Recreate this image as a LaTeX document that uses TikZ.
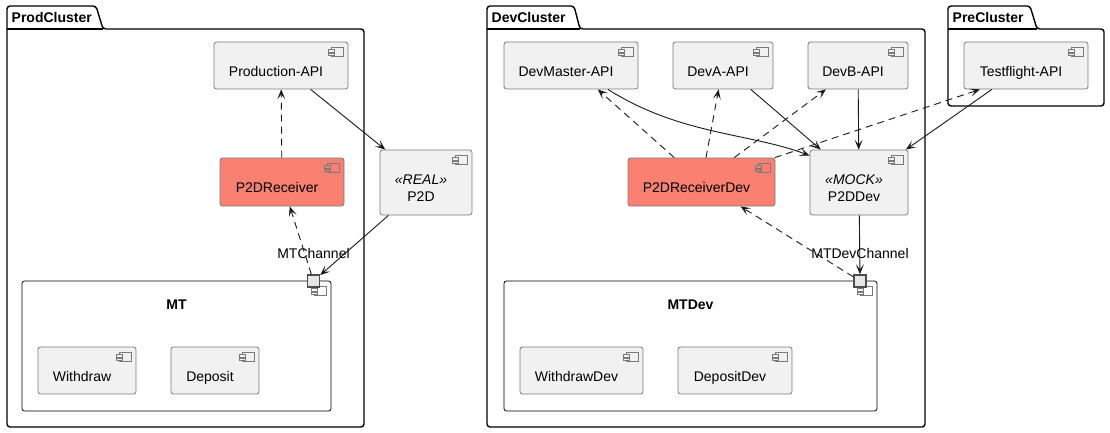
\documentclass[tikz,border=0pt]{standalone}
\usepackage{fontspec}
\setmainfont{Liberation Sans}
\usetikzlibrary{arrows.meta}
\definecolor{compfill}{HTML}{F1F1F1}
\definecolor{compline}{HTML}{7A7A7A}
\definecolor{recvfill}{HTML}{FA8072}
\definecolor{portfill}{HTML}{E6E6E6}
\tikzset{
  pics/compicon/.style={code={
    \draw[compline, fill=#1, line width=0.7pt] (-17,6) rectangle (-5,15);
    \draw[compline, fill=#1, line width=0.7pt] (-20,8) rectangle (-14,10.5) (-20,11.5) rectangle (-14,14);
  }},
}
\begin{document}
\begin{tikzpicture}[x=1pt, y=-1pt, font=\fontsize{14}{16}\selectfont,
    comp/.style={draw=compline, fill=compfill, line width=0.8pt, rounded corners=2.5pt, minimum height=47pt, inner sep=0pt},
    recv/.style={comp, fill=recvfill, minimum height=48pt},
    box/.style={draw=black, line width=0.8pt, rounded corners=2.5pt, minimum height=130pt, inner sep=0pt},
    port/.style={draw=black!70, fill=portfill, line width=1.4pt, minimum size=12pt, inner sep=0pt},
    pkg/.style={draw=black, line width=1.4pt},
    pkgtitle/.style={font=\fontsize{14}{16}\selectfont\bfseries, inner sep=0pt, anchor=base west},
    comptext/.style={inner sep=0pt, anchor=base, xshift=-5pt},
    boxtitle/.style={font=\fontsize{14}{16}\selectfont\bfseries, inner sep=0pt, anchor=base},
    portlabel/.style={inner sep=0pt, label distance=15pt},
    txt/.style={label={[comptext, yshift=-35pt]north:#1}},
    stxt/.style 2 args={label={[comptext, yshift=-35pt]north:{\itshape «#1»}}, label={[comptext, yshift=-51.5pt]north:#2}},
    link/.style={draw=black!90, line width=0.9pt, -{Stealth[length=10pt, width=8pt, inset=5pt]}},
    deplink/.style={link, dash pattern=on 7pt off 5pt}]
  \useasboundingbox (0,0) rectangle (1110,433);

  % packages
  \draw[pkg, rounded corners=3pt] (7,29) |- (96,6) -- (103,29) -- (364,29) -- (364,427) -- (7,427) -- cycle;
  \draw[pkg] (7,29) -- (103,29);
  \node[pkgtitle] (prodtitle) at (11.5,23) {ProdCluster};
  \draw[pkg, rounded corners=3pt] (487,29) |- (574,6) -- (580,29) -- (925,29) -- (925,427) -- (487,427) -- cycle;
  \draw[pkg] (487,29) -- (580,29);
  \node[pkgtitle] (devtitle) at (491.5,23) {DevCluster};
  \draw[pkg, rounded corners=3pt] (948,29) |- (1030,6) -- (1037,29) -- (1104,29) -- (1104,106) -- (948,106) -- cycle;
  \draw[pkg] (948,29) -- (1037,29);
  \node[pkgtitle] (pretitle) at (952.5,23) {PreCluster};

  % prod
  \node[comp, minimum width=134pt, txt=Production-API] (prodapi) at (281,65.5) {};
  \node[recv, minimum width=124pt, txt=P2DReceiver] (p2drecv) at (282,182) {};
  \node[comp, minimum width=92pt, minimum height=65pt, stxt={REAL}{P2D}] (p2d) at (426,182.5) {};
  \node[box, minimum width=309pt, label={[boxtitle, yshift=-28.5pt]north:MT}] (mt) at (176.5,346) {};
  \node[comp, minimum width=98pt, txt=Withdraw] (withdraw) at (87,370.5) {};
  \node[comp, minimum width=88pt, txt=Deposit] (deposit) at (215,370.5) {};

  % dev
  \node[comp, minimum width=134pt, txt=DevMaster-API] (devmaster) at (571,65.5) {};
  \node[comp, minimum width=100pt, txt=DevA-API] (deva) at (723,65.5) {};
  \node[comp, minimum width=100pt, txt=DevB-API] (devb) at (858,65.5) {};
  \node[recv, minimum width=147pt, txt=P2DReceiverDev] (p2drecvdev) at (701.5,182) {};
  \node[comp, minimum width=98pt, minimum height=65pt, stxt={MOCK}{P2DDev}] (p2ddev) at (859,182.5) {};
  \node[box, minimum width=373pt, label={[boxtitle, yshift=-28.5pt]north:MTDev}] (mtdev) at (690.5,346) {};
  \node[comp, minimum width=123pt, txt=WithdrawDev] (withdrawdev) at (581.5,370.5) {};
  \node[comp, minimum width=114pt, txt=DepositDev] (depositdev) at (735,370.5) {};

  % pre
  \node[comp, minimum width=124pt, txt=Testflight-API] (tfapi) at (1026,65.5) {};

  \foreach \n/\c in {prodapi/compfill, p2drecv/recvfill, p2d/compfill, mt/white, withdraw/compfill, deposit/compfill,
      devmaster/compfill, deva/compfill, devb/compfill, p2drecvdev/recvfill, p2ddev/compfill, mtdev/white,
      withdrawdev/compfill, depositdev/compfill, tfapi/compfill}
    \path (\n.north east) pic {compicon=\c};

  % ports
  \node[port, label={[portlabel]above:MTChannel}] (mtport) at (313.5,281) {};
  \node[port, label={[portlabel]above:MTDevChannel}] (mtdevport) at (860,281) {};

  % connectors
  \draw[deplink] (p2drecv) -- (prodapi);
  \draw[link] (prodapi) -- (p2d);
  \draw[link] (p2d) -- (mtport);
  \draw[deplink] (mtport) -- (p2drecv);

  \draw[link] ([xshift=37pt]devmaster.south) .. controls (680,135) and (750,133) .. ([yshift=-6pt]p2ddev.north west);
  \draw[link] (deva) -- (p2ddev);
  \draw[link] (devb) -- (p2ddev);
  \draw[link] (tfapi) -- (p2ddev);
  \draw[deplink] (p2drecvdev) -- (devmaster);
  \draw[deplink] (p2drecvdev) -- (deva);
  \draw[deplink] (p2drecvdev) -- (devb);
  \draw[deplink] (p2drecvdev) -- ([xshift=-46pt]tfapi.south);
  \draw[link] (p2ddev) -- (mtdevport);
  \draw[deplink] (mtdevport) -- (p2drecvdev);
\end{tikzpicture}
\end{document}
